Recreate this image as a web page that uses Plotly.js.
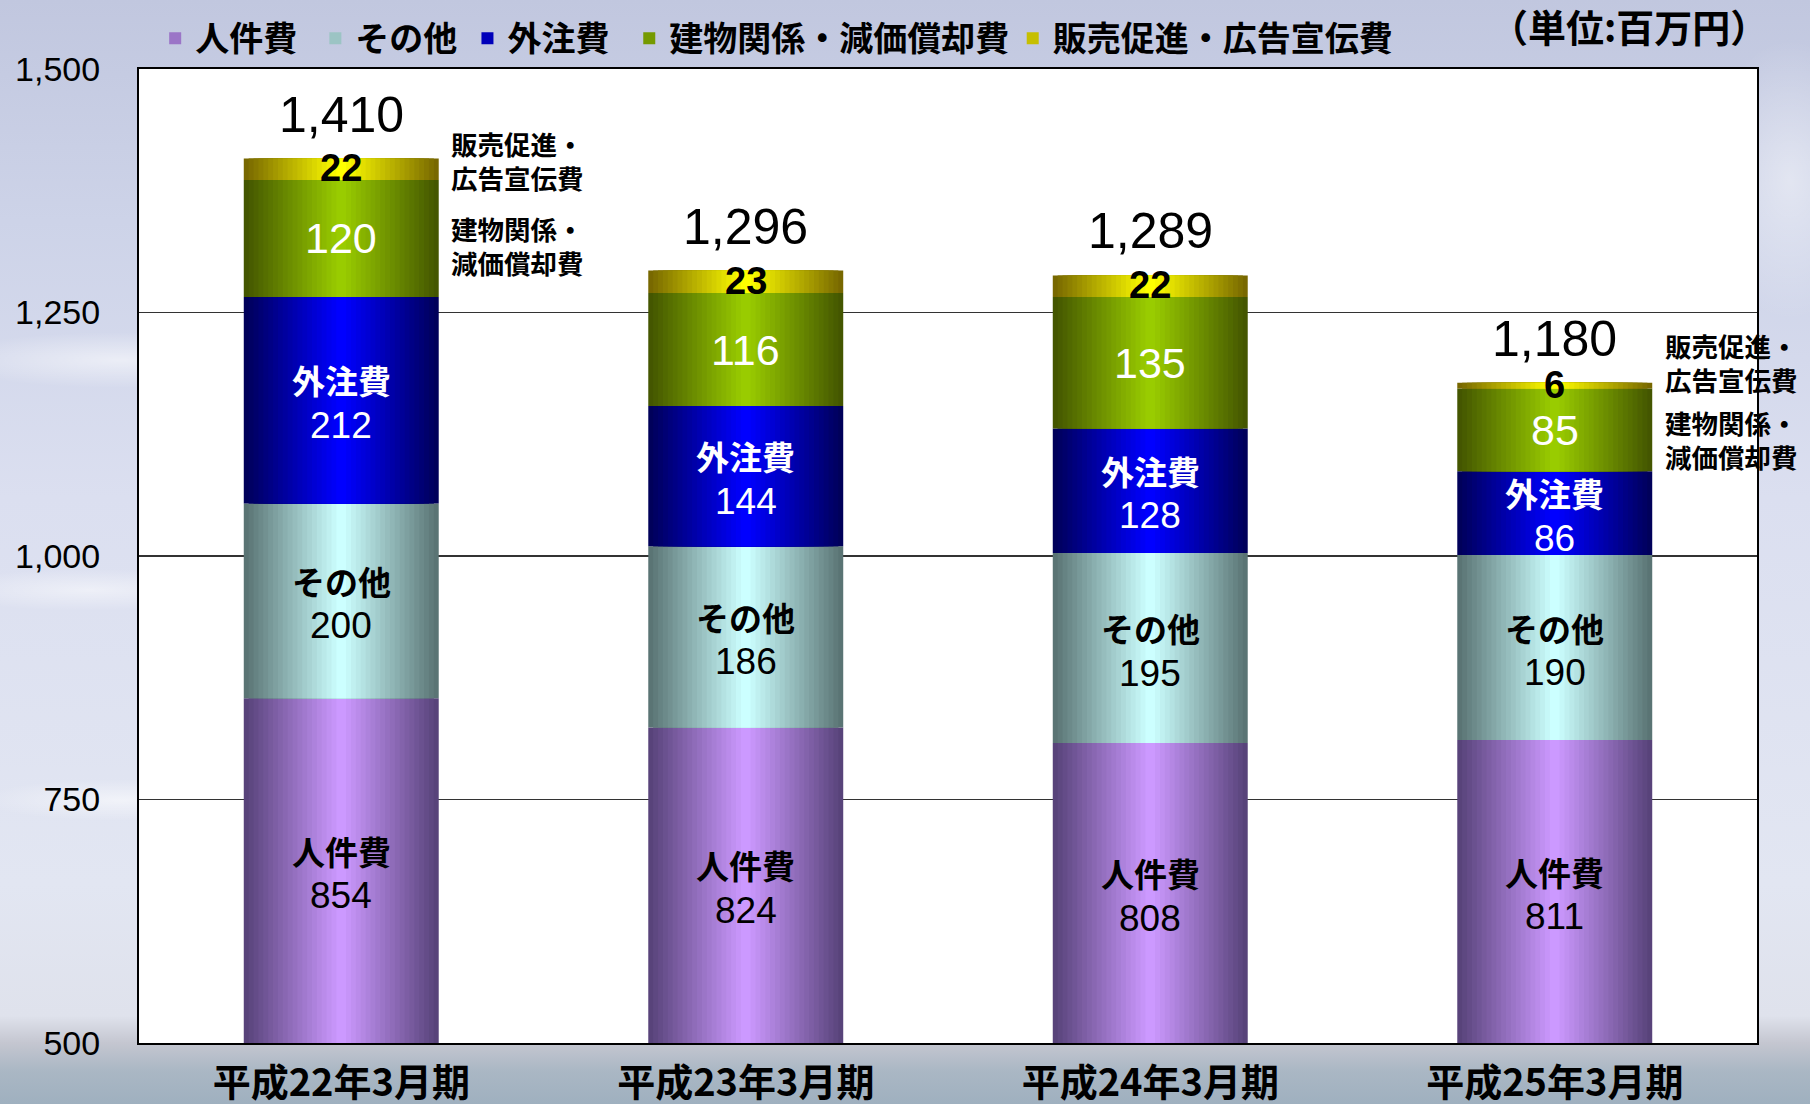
<!DOCTYPE html>
<html>
<head>
<meta charset="utf-8">
<script src="https://cdn.plot.ly/plotly-3.0.1.min.js"></script>
<style>
  html, body { margin: 0; padding: 0; }
  body {
    width: 1810px; height: 1104px; overflow: hidden;
    background:
      radial-gradient(ellipse 260px 40px at 120px 360px, rgba(255,255,255,0.55), rgba(255,255,255,0) 70%),
      radial-gradient(ellipse 220px 30px at 90px 590px, rgba(255,255,255,0.5), rgba(255,255,255,0) 70%),
      radial-gradient(ellipse 200px 30px at 120px 800px, rgba(255,255,255,0.55), rgba(255,255,255,0) 70%),
      radial-gradient(ellipse 120px 200px at 1790px 180px, rgba(255,255,255,0.45), rgba(255,255,255,0) 70%),
      linear-gradient(to bottom, #c1c7df 0%, #cdd3e8 20%, #dbdff0 45%, #e2e6f2 80%, #dfe2ec 92%, #c4c6d0 94.5%, #aab7c4 97%, #9fb0bf 100%);
  }
  #chart { width: 1810px; height: 1104px; }
</style>
</head>
<body>
<div id="chart"></div>
<script>
// ---- data ----
const categories = ['平成22年3月期', '平成23年3月期', '平成24年3月期', '平成25年3月期'];
const seriesNames = ['人件費', 'その他', '外注費', '建物関係・減価償却費', '販売促進・広告宣伝費'];
const jinkenhi = [854, 824, 808, 811];      // 人件費
const sonota   = [200, 186, 195, 190];      // その他
const gaichuhi = [212, 144, 128, 86];       // 外注費
const tatemono = [120, 116, 135, 85];       // 建物関係・減価償却費
const hanbai   = [22, 23, 22, 6];           // 販売促進・広告宣伝費
const totals   = [1410, 1296, 1289, 1180];  // 合計ラベル
const yTickVals = [500, 750, 1000, 1250, 1500];
const yRange = [500, 1500];
const unitLabel = '（単位:百万円）';
const sideLabels = ['販売促進・<br>広告宣伝費', '建物関係・<br>減価償却費'];

// ---- styles ----
const seriesValues = [jinkenhi, sonota, gaichuhi, tatemono, hanbai];
const edgeColors   = ['#58437a', '#5a7474', '#00005a', '#445600', '#786800'];
const centerColors = ['#cc99ff', '#ccffff', '#0000ff', '#99cc00', '#ffff00'];
const legendX = [0.010, 0.109, 0.203, 0.303, 0.540];
const BW = 0.482;
const N = 20;
const JP = "'Noto Sans CJK JP', sans-serif";
const NUM = "'Liberation Sans', Arial, sans-serif";

function hex2rgb(h) { return [1,3,5].map(i => parseInt(h.substr(i,2),16)); }
function mix(a, b, t) {
  const A = hex2rgb(a), B = hex2rgb(b);
  return 'rgb(' + A.map((v,i) => Math.round(v + (B[i]-v)*t)).join(',') + ')';
}

const traces = [];
const bases = [];
let cum = categories.map(() => 0);
seriesValues.forEach((vals, s) => {
  const base = cum.slice();
  bases.push(base);
  const legId = s === 0 ? 'legend' : 'legend' + (s + 1);
  for (let k = 0; k < N; k++) {
    const t = k / (N - 1);
    traces.push({
      type: 'bar', x: categories, y: vals, base: base,
      width: BW * (1 - k / N),
      marker: { color: mix(edgeColors[s], centerColors[s], t), line: { width: 0 } },
      name: seriesNames[s], legendgroup: 's' + s, legend: legId,
      showlegend: k === Math.round(N * 0.55),
      hoverinfo: 'skip'
    });
  }
  cum = cum.map((c, i) => c + vals[i]);
});
const tops = cum;

// segment centres (visible portion)
function mids(s) {
  return categories.map((_, i) => {
    const lo = Math.max(bases[s][i], yRange[0]);
    return (lo + bases[s][i] + seriesValues[s][i]) / 2;
  });
}

const annotations = [];
function addAnn(x, y, text, font, extra) {
  annotations.push(Object.assign({
    x: x, y: y, xref: 'x', yref: 'y', xanchor: 'center', yanchor: 'middle',
    text: text, showarrow: false, font: font
  }, extra || {}));
}

// labelled segments: name above, value below
[[0, '#000'], [1, '#000'], [2, '#fff']].forEach(([s, col]) => {
  const m = mids(s);
  categories.forEach((c, i) => {
    addAnn(c, m[i], seriesNames[s], { family: JP, size: 33, weight: 700, color: col }, { yshift: 20 });
    addAnn(c, m[i], String(seriesValues[s][i]), { family: NUM, size: 37, color: col }, { yshift: -25 });
  });
});
// green values
mids(3).forEach((m, i) => addAnn(categories[i], m, String(tatemono[i]),
  { family: NUM, size: 43, color: '#fff' }, { yshift: 0 }));
// yellow values
mids(4).forEach((m, i) => addAnn(categories[i], m, String(hanbai[i]),
  { family: NUM, size: 38, weight: 700, color: '#000' }, { yshift: 1 }));

// totals
categories.forEach((c, i) => {
  addAnn(c, tops[i], totals[i].toLocaleString('en-US'),
    { family: NUM, size: 50, color: '#000' }, { yanchor: 'bottom', yshift: 14 });
});
// side labels on first and last bars
[[0, 9, -7], [3, 23, -10]].forEach(([i, sh1, sh2]) => {
  addAnn(categories[i], mids(4)[i], sideLabels[0],
    { family: JP, size: 26.5, weight: 700, color: '#000' },
    { xanchor: 'left', xshift: 108, yshift: sh1, align: 'left' });
  addAnn(categories[i], mids(3)[i], sideLabels[1],
    { family: JP, size: 26.5, weight: 700, color: '#000' },
    { xanchor: 'left', xshift: 108, yshift: sh2, align: 'left' });
});
// unit
annotations.push({
  x: 1.0, y: 1.045, xref: 'paper', yref: 'paper', xanchor: 'right', yanchor: 'middle',
  xshift: 12, text: unitLabel, showarrow: false, borderpad: 0,
  font: { family: JP, size: 38, weight: 700, color: '#000' }
});

const layout = {
  width: 1810, height: 1104,
  margin: { l: 139, r: 53, t: 69, b: 61, autoexpand: false },
  paper_bgcolor: 'rgba(0,0,0,0)',
  plot_bgcolor: '#ffffff',
  barmode: 'overlay',
  hovermode: false,
  showlegend: true,
  xaxis: {
    type: 'category', categoryorder: 'array', categoryarray: categories,
    range: [-0.5, categories.length - 0.5], autorange: false,
    showline: true, mirror: true, linecolor: '#000', linewidth: 2,
    showgrid: false, ticks: '', ticklabelstandoff: 5,
    tickfont: { family: JP, size: 38, weight: 700, color: '#000' },
    fixedrange: true
  },
  yaxis: {
    range: yRange, autorange: false, tickvals: yTickVals, tickformat: ',d',
    showline: true, mirror: true, linecolor: '#000', linewidth: 2,
    showgrid: true, gridcolor: '#333', gridwidth: 1.5, zeroline: false,
    ticks: '', ticklabelstandoff: 30,
    tickfont: { family: NUM, size: 34, color: '#000' },
    fixedrange: true
  },
  annotations: annotations
};
seriesNames.forEach((_, s) => {
  const legId = s === 0 ? 'legend' : 'legend' + (s + 1);
  layout[legId] = {
    orientation: 'h', x: legendX[s], xanchor: 'left', y: 1.0015, yanchor: 'bottom',
    xref: 'paper', yref: 'paper', bgcolor: 'rgba(0,0,0,0)', itemwidth: 30,
    font: { family: JP, size: 34, weight: 700, color: '#000' }
  };
});

Plotly.newPlot('chart', traces, layout, { displayModeBar: false, staticPlot: true });
</script>
</body>
</html>
